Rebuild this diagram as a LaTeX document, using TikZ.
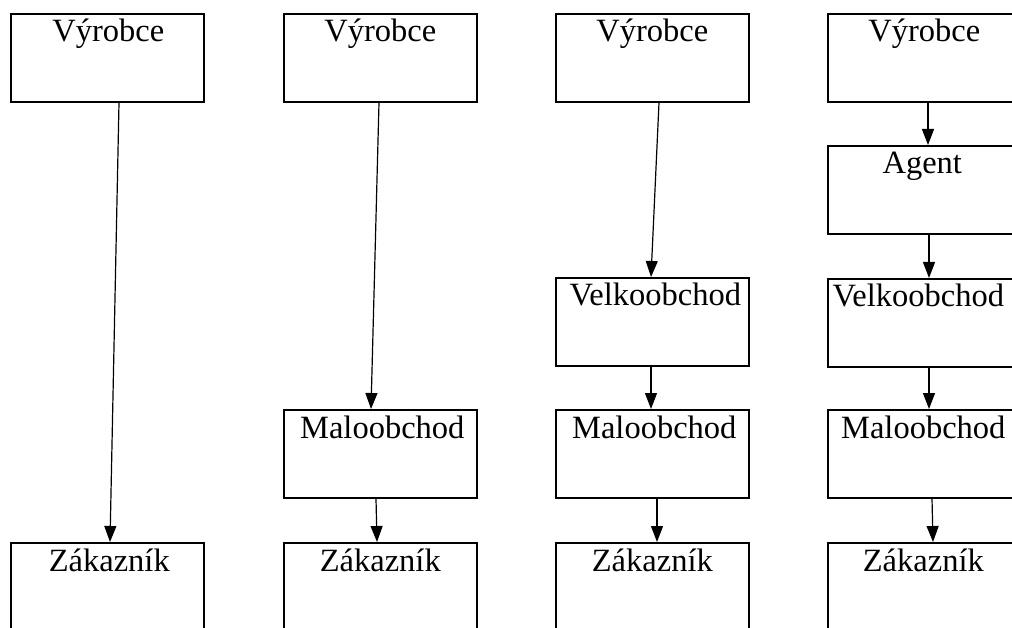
\documentclass[tikz,border=0pt]{standalone}
\usepackage{fontspec}
\setmainfont{Liberation Serif}
\usetikzlibrary{arrows.meta,calc}
\tikzset{
  box/.style={draw, line width=1.6pt, minimum width=193pt, minimum height=88pt, anchor=north west, inner sep=0pt},
  lbl/.style={anchor=base, inner sep=0pt, font=\fontsize{32.5}{36}\selectfont},
  arr/.style={line width=1.2pt, -{Triangle[width=12pt,length=16pt]}}
}
\begin{document}
\begin{tikzpicture}[x=1pt,y=-1pt]
\useasboundingbox (0,0) rectangle (1012,628);
\clip (0,0) rectangle (1012,628);
% boxes
\node[box] (v1) at (10,13) {};
\node[box] (z1) at (10,542) {};
\node[box] (v2) at (283,13) {};
\node[box] (m2) at (283,409) {};
\node[box] (z2) at (283,542) {};
\node[box] (v3) at (555,13) {};
\node[box] (w3) at (555,277) {};
\node[box] (m3) at (555,409) {};
\node[box] (z3) at (555,542) {};
\node[box] (v4) at (827,13) {};
\node[box] (a4) at (827,145) {};
\node[box] (w4) at (827,278) {};
\node[box] (m4) at (827,409) {};
\node[box] (z4) at (827,542) {};
% labels
\node[lbl] (tv1) at ($(v1.north)+(1,29)$) {Výrobce};
\node[lbl] (tz1) at ($(z1.north)+(2,29)$) {Zákazník};
\node[lbl] (tv2) at ($(v2.north)+(0,29)$) {Výrobce};
\node[lbl] (tm2) at ($(m2.north)+(2,29)$) {Maloobchod};
\node[lbl] (tz2) at ($(z2.north)+(0,29)$) {Zákazník};
\node[lbl] (tv3) at ($(v3.north)+(0,29)$) {Výrobce};
\node[lbl] (tw3) at ($(w3.north)+(3,29)$) {Velkoobchod};
\node[lbl] (tm3) at ($(m3.north)+(2,29)$) {Maloobchod};
\node[lbl] (tz3) at ($(z3.north)+(0,29)$) {Zákazník};
\node[lbl] (tv4) at ($(v4.north)+(0,29)$) {Výrobce};
\node[lbl] (ta4) at ($(a4.north)+(-2,29)$) {Agent};
\node[lbl] (tw4) at ($(w4.north)+(-6,29)$) {Velkoobchod};
\node[lbl] (tm4) at ($(m4.north)+(-1,29)$) {Maloobchod};
\node[lbl] (tz4) at ($(z4.north)+(-1,29)$) {Zákazník};
% arrows
\draw[arr] ($(v1.south west)+(109,0)$) -- ($(z1.north west)+(100,0)$);
\draw[arr] ($(v2.south west)+(96,0)$) -- ($(m2.north west)+(88,0)$);
\draw[arr] ($(m2.south west)+(93,0)$) -- ($(z2.north west)+(94,0)$);
\draw[arr] ($(v3.south west)+(104,0)$) -- ($(w3.north west)+(96,0)$);
\draw[arr] ($(w3.south west)+(96,0)$) -- ($(m3.north west)+(96,0)$);
\draw[arr] ($(m3.south west)+(102,0)$) -- ($(z3.north west)+(102,0)$);
\draw[arr] ($(v4.south west)+(101,0)$) -- ($(a4.north west)+(101,0)$);
\draw[arr] ($(a4.south west)+(102,0)$) -- ($(w4.north west)+(102,0)$);
\draw[arr] ($(w4.south west)+(102,0)$) -- ($(m4.north west)+(102,0)$);
\draw[arr] ($(m4.south west)+(105,0)$) -- ($(z4.north west)+(106,0)$);
\end{tikzpicture}
\end{document}
